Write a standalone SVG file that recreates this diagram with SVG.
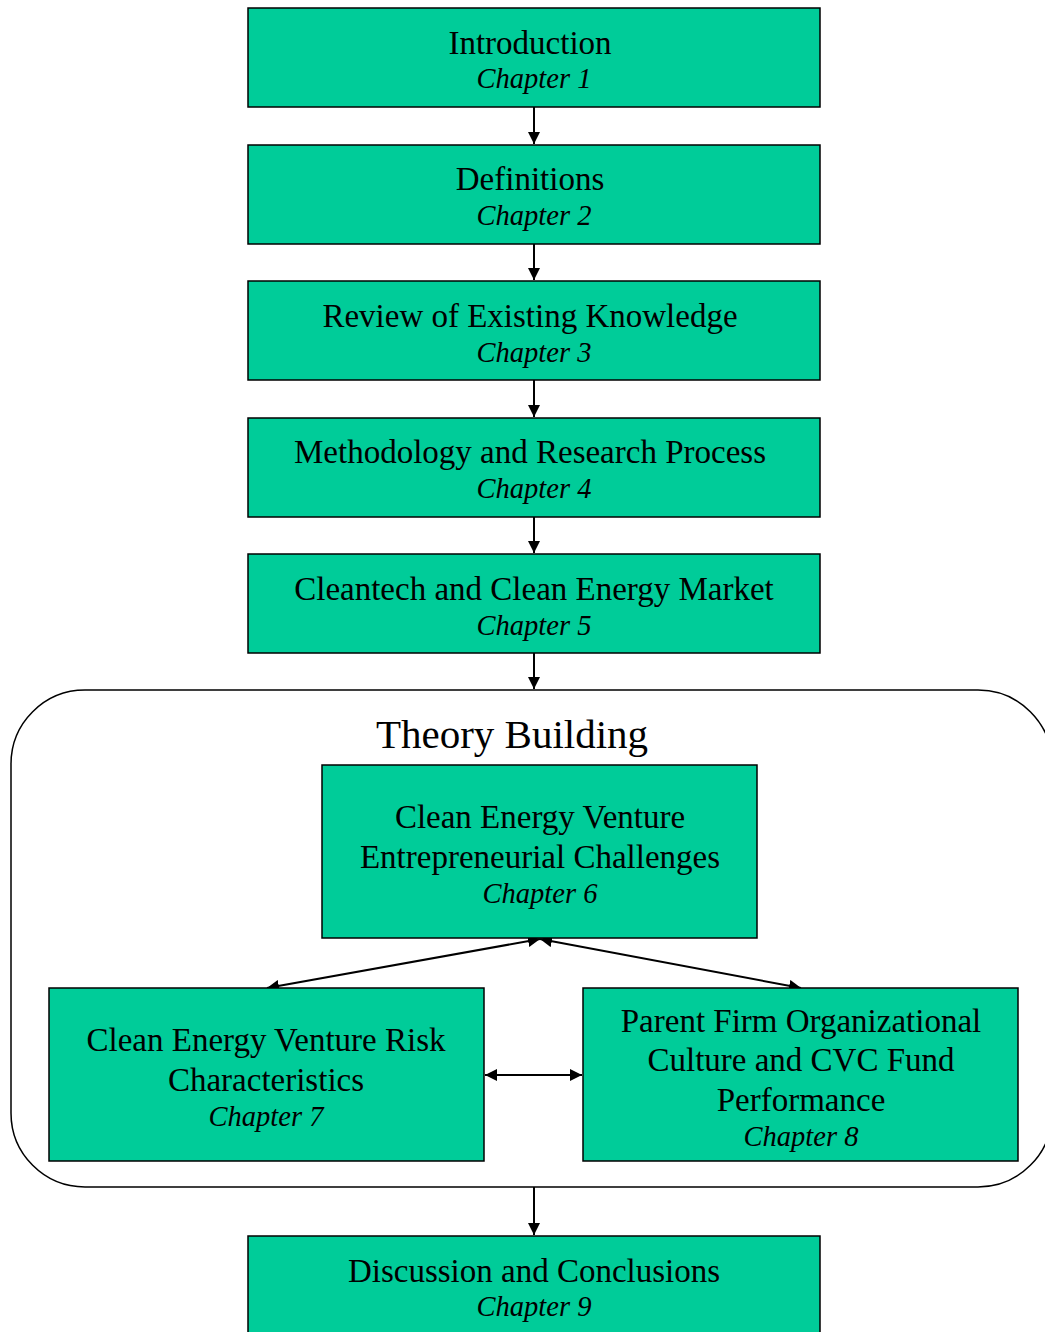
<svg xmlns="http://www.w3.org/2000/svg" width="1045" height="1332" viewBox="0 0 1045 1332">
<style>
.box{fill:#00CC99;stroke:#000;stroke-width:1.5}
.t{font-family:"Liberation Serif","Times New Roman",serif;font-size:33px;text-anchor:middle;fill:#000}
.c{font-family:"Liberation Serif","Times New Roman",serif;font-size:28.5px;font-style:italic;text-anchor:middle;fill:#000}
.h{font-family:"Liberation Serif","Times New Roman",serif;font-size:41px;text-anchor:middle;fill:#000}
.ln{stroke:#000;stroke-width:2;fill:none}
</style>
<defs>
<marker id="ah" viewBox="0 0 10 10" refX="10" refY="5" markerWidth="6" markerHeight="6" orient="auto-start-reverse" markerUnits="strokeWidth">
<path d="M0,0 L10,5 L0,10 z" fill="#000"/>
</marker>
</defs>
<rect width="1045" height="1332" fill="#fff"/>
<g id="theory-building">
<rect x="11" y="690" width="1041" height="497" rx="74" ry="74" fill="none" stroke="#000" stroke-width="1.5"/>
<text class="h" x="512" y="748">Theory Building</text>
</g>
<g id="connectors">
<line class="ln" x1="534" y1="107" x2="534" y2="144" marker-end="url(#ah)"/>
<line class="ln" x1="534" y1="244" x2="534" y2="280" marker-end="url(#ah)"/>
<line class="ln" x1="534" y1="380" x2="534" y2="417" marker-end="url(#ah)"/>
<line class="ln" x1="534" y1="517" x2="534" y2="553" marker-end="url(#ah)"/>
<line class="ln" x1="534" y1="653" x2="534" y2="689" marker-end="url(#ah)"/>
<line class="ln" x1="540" y1="939" x2="267" y2="988" marker-start="url(#ah)" marker-end="url(#ah)"/>
<line class="ln" x1="540" y1="939" x2="801" y2="988" marker-start="url(#ah)" marker-end="url(#ah)"/>
<line class="ln" x1="485" y1="1075" x2="582" y2="1075" marker-start="url(#ah)" marker-end="url(#ah)"/>
<line class="ln" x1="534" y1="1187" x2="534" y2="1235" marker-end="url(#ah)"/>
</g>
<g id="ch1">
<rect class="box" x="248" y="8" width="572" height="99"/>
<text class="t" x="530" y="54">Introduction</text>
<text class="c" x="534" y="88">Chapter 1</text>
</g>
<g id="ch2">
<rect class="box" x="248" y="145" width="572" height="99"/>
<text class="t" x="530" y="190">Definitions</text>
<text class="c" x="534" y="225">Chapter 2</text>
</g>
<g id="ch3">
<rect class="box" x="248" y="281" width="572" height="99"/>
<text class="t" x="530" y="327">Review of Existing Knowledge</text>
<text class="c" x="534" y="362">Chapter 3</text>
</g>
<g id="ch4">
<rect class="box" x="248" y="418" width="572" height="99"/>
<text class="t" x="530" y="463">Methodology and Research Process</text>
<text class="c" x="534" y="498">Chapter 4</text>
</g>
<g id="ch5">
<rect class="box" x="248" y="554" width="572" height="99"/>
<text class="t" x="534" y="600">Cleantech and Clean Energy Market</text>
<text class="c" x="534" y="635">Chapter 5</text>
</g>
<g id="ch6">
<rect class="box" x="322" y="765" width="435" height="173"/>
<text class="t" x="540" y="828">Clean Energy Venture</text>
<text class="t" x="540" y="868">Entrepreneurial Challenges</text>
<text class="c" x="540" y="903">Chapter 6</text>
</g>
<g id="ch7">
<rect class="box" x="49" y="988" width="435" height="173"/>
<text class="t" x="266" y="1051">Clean Energy Venture Risk</text>
<text class="t" x="266" y="1091">Characteristics</text>
<text class="c" x="266" y="1126">Chapter 7</text>
</g>
<g id="ch8">
<rect class="box" x="583" y="988" width="435" height="173"/>
<text class="t" x="801" y="1032">Parent Firm Organizational</text>
<text class="t" x="801" y="1071">Culture and CVC Fund</text>
<text class="t" x="801" y="1111">Performance</text>
<text class="c" x="801" y="1146">Chapter 8</text>
</g>
<g id="ch9">
<rect class="box" x="248" y="1236" width="572" height="120"/>
<text class="t" x="534" y="1282">Discussion and Conclusions</text>
<text class="c" x="534" y="1316">Chapter 9</text>
</g>
</svg>
